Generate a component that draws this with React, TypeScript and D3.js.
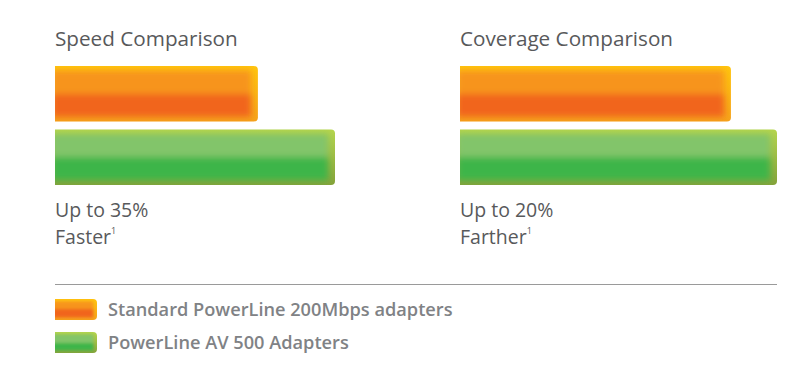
import React from "react";
import * as d3 from "d3";

// data
const series = ["Standard PowerLine 200Mbps adapters", "PowerLine AV 500 Adapters"];
const speedValues = [100, 138];
const coverageValues = [100, 117];
const panelTitles = ["Speed Comparison", "Coverage Comparison"];
const panelNotes = [["Up to 35%", "Faster"], ["Up to 20%", "Farther"]];

const W = 792;
const H = 386;

const palettes = [
  { edgeTop: "#ffc50f", edgeBottom: "#f5a21c", top: "#f7941d", bottom: "#f1651f" },
  { edgeTop: "#b5d54c", edgeBottom: "#86a23a", top: "#82c56a", bottom: "#3db54a" },
];

function barPath(x0: number, x1: number, y0: number, y1: number, r: number) {
  return `M${x0},${y0}H${x1 - r}Q${x1},${y0} ${x1},${y0 + r}V${y1 - r}Q${x1},${y1} ${x1 - r},${y1}H${x0}Z`;
}

function GlossyBar({ id, x0, x1, y0, y1, pi, inset, blur }: any) {
  const d = barPath(x0, x1, y0, y1, 4);
  return (
    <g>
      <clipPath id={`clip-${id}`}>
        <path d={d} />
      </clipPath>
      <path d={d} fill={`url(#edge-${pi})`} />
      <g clipPath={`url(#clip-${id})`}>
        <rect
          x={x0 - 3}
          y={y0 + inset}
          width={x1 - x0 - inset * 1.5 + 3}
          height={y1 - y0 - inset * 2}
          fill={`url(#band-${pi})`}
          filter={`url(#${blur})`}
        />
      </g>
    </g>
  );
}

export default function App() {
  const yBand = d3.scaleBand<string>().domain(series).range([66, 185]).paddingInner(0.127);
  const panels = [
    { values: speedValues, x: d3.scaleLinear().domain([0, 138]).range([55, 335]), left: 55 },
    { values: coverageValues, x: d3.scaleLinear().domain([0, 117]).range([460, 777]), left: 460 },
  ];
  const legendY = d3.scaleBand<string>().domain(series).range([299, 353]).paddingInner(0.364);
  const font = "'Open Sans', 'Noto Sans', sans-serif";

  return (
    <svg width={W} height={H} style={{ position: "absolute", left: 0, top: 0, background: "#fff" }}>
      <defs>
        <filter id="soft" x="-10%" y="-40%" width="120%" height="180%">
          <feGaussianBlur stdDeviation="3" />
        </filter>
        <filter id="softSmall" x="-20%" y="-50%" width="140%" height="200%">
          <feGaussianBlur stdDeviation="1.6" />
        </filter>
        {palettes.map((p, i) => (
          <React.Fragment key={i}>
            <linearGradient id={`edge-${i}`} x1="0" y1="0" x2="0" y2="1">
              <stop offset="0" stopColor={p.edgeTop} />
              <stop offset="1" stopColor={p.edgeBottom} />
            </linearGradient>
            <linearGradient id={`band-${i}`} x1="0" y1="0" x2="0" y2="1">
              <stop offset="0" stopColor={p.top} />
              <stop offset="0.5" stopColor={p.top} />
              <stop offset="0.5" stopColor={p.bottom} />
              <stop offset="1" stopColor={p.bottom} />
            </linearGradient>
          </React.Fragment>
        ))}
      </defs>

      {panels.map((pn, k) => (
        <g key={k}>
          <text x={pn.left} y={46} fontFamily={font} fontSize={20.7} fill="#58595b">
            {panelTitles[k]}
          </text>
          {pn.values.map((v, i) => (
            <GlossyBar
              key={i}
              id={`${k}-${i}`}
              pi={i}
              x0={pn.x(0)}
              x1={pn.x(v)}
              y0={yBand(series[i])!}
              y1={yBand(series[i])! + yBand.bandwidth()}
              inset={4.5}
              blur="soft"
            />
          ))}
          <text x={pn.left} y={217} fontFamily={font} fontSize={19.5} fill="#58595b">
            {panelNotes[k][0]}
          </text>
          <text x={pn.left} y={244} fontFamily={font} fontSize={19.5} fill="#58595b">
            {panelNotes[k][1]}
            <tspan fontSize={9} dy={-10}>1</tspan>
          </text>
        </g>
      ))}

      <line x1={55} x2={777} y1={284.5} y2={284.5} stroke="#9a9a9a" strokeWidth={1} />

      {series.map((s, i) => {
        const y0 = legendY(s)!;
        return (
          <g key={s}>
            <GlossyBar
              id={`leg-${i}`}
              pi={i}
              x0={55}
              x1={97}
              y0={y0}
              y1={y0 + legendY.bandwidth()}
              inset={2.5}
              blur="softSmall"
            />
            <text x={108} y={y0 + 17} fontFamily={font} fontSize={18.2} fontWeight={600} fill="#808285">
              {s}
            </text>
          </g>
        );
      })}
    </svg>
  );
}
